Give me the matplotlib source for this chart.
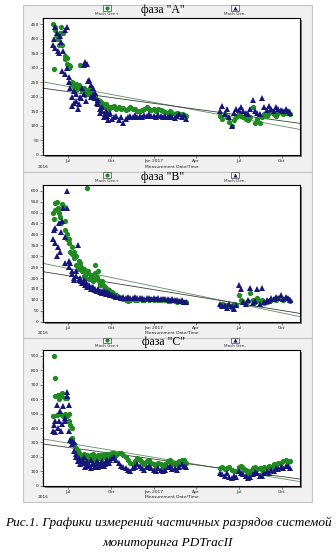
import numpy as np
import pandas as pd
import matplotlib
matplotlib.use("Agg")
import matplotlib.pyplot as plt
import matplotlib.dates as mdates
from matplotlib.patches import Rectangle
from matplotlib.lines import Line2D
from matplotlib.ticker import MultipleLocator, AutoMinorLocator, FuncFormatter

# ---- data ----
# main readings every 5 days from 2016-05-30, extra readings every 4 days from 2016-05-31,
# 2017 readings every 5 days from 2017-05-22
a_green_main = [450, 430, 400, 420, 380, 340, 315, 300, 245, 235,
                225, 240, 230, 215, 225, 210, 200, 215, 205, 190,
                185, 175, 170, 165, 160, 165, 170, 160, 165, 158,
                162, 155, 160, 165, 158, 160, 152, 150, 155, 158,
                165, 160, 155, 158, 152, 160, 155, 150, 148, 145,
                150, 145, 142, 145, 140, 142, 138, 135]
a_blue_main = [380, 440, 360, 410, 290, 430, 300, 250, 200, 180,
               210, 175, 195, 210, 185, 255, 200, 230, 195, 175,
               160, 150, 140, 135, 140, 125, 130, 135, 120, 130,
               110, 125, 130, 135, 130, 138, 132, 135, 130, 138,
               135, 140, 133, 136, 132, 138, 135, 130, 134, 130,
               136, 132, 128, 135, 140, 132, 138, 125]
a_green_extra = [295, 440, 410, 380, 440, 420, 330, 335, 310, 305,
                 250, 220, 245, 230, 310, 220, 230, 205, 215, 225,
                 210, 195, 200, 185, 180, 175, 180, 170, 175, 160,
                 165]
a_blue_extra = [400, 370, 420, 350, 390, 360, 280, 440, 270, 230,
                170, 220, 185, 160, 200, 230, 310, 320, 315, 260,
                240, 205, 215, 180, 190, 145, 165, 130, 150, 120,
                145]
a_green_2017 = [135, 125, 140, 130, 115, 100, 120, 130, 140, 135,
                130, 125, 120, 130, 165, 110, 125, 110, 130, 140,
                135, 145, 150, 140, 135, 145, 150, 140, 145, 150,
                140]
a_blue_2017 = [150, 170, 140, 160, 130, 100, 145, 160, 155, 165,
               150, 145, 140, 160, 190, 150, 145, 140, 195, 165,
               155, 170, 160, 150, 165, 160, 155, 150, 160, 150,
               145]

b_green_main = [500, 545, 520, 480, 540, 460, 400, 380, 340, 320,
                300, 280, 250, 240, 220, 230, 210, 200, 225, 190,
                175, 180, 160, 150, 145, 135, 125, 120, 115, 110,
                105, 100, 95, 100, 105, 98, 100, 105, 100, 98,
                102, 100, 105, 100, 103, 100, 98, 102, 100, 97,
                95, 98, 95, 92, 95, 90, 92, 88]
b_blue_main = [380, 430, 340, 320, 460, 270, 520, 280, 220, 200,
               210, 190, 185, 175, 180, 165, 160, 155, 150, 145,
               140, 140, 135, 138, 130, 120, 118, 115, 112, 110,
               115, 108, 112, 110, 108, 112, 110, 108, 110, 105,
               108, 110, 106, 108, 105, 108, 104, 106, 102, 105,
               100, 103, 98, 100, 96, 98, 90, 88]
b_green_extra = [470, 510, 550, 500, 450, 530, 420, 380, 360, 320,
                 310, 290, 260, 240, 270, 230, 210, 200, 610, 195,
                 215, 185, 260, 205, 230, 170, 185, 165, 150, 140,
                 130]
b_blue_extra = [420, 360, 300, 450, 410, 520, 390, 600, 250, 270,
                230, 190, 230, 350, 200, 175, 190, 170, 160, 170,
                150, 160, 145, 140, 150, 135, 130, 140, 125, 130,
                120]
b_green_2017 = [75, 80, 70, 75, 70, 65, 80, 75, 120, 100,
                90, 85, 95, 130, 100, 90, 110, 95, 100, 85,
                90, 95, 100, 105, 100, 110, 105, 100, 110, 105,
                95]
b_blue_2017 = [80, 70, 75, 65, 80, 70, 60, 75, 170, 150,
               90, 80, 100, 155, 85, 95, 150, 80, 155, 90,
               100, 95, 110, 105, 115, 110, 120, 105, 115, 110,
               100]

c_green_main = [480, 620, 630, 500, 640, 610, 480, 450, 400, 290,
                250, 230, 210, 220, 200, 190, 210, 220, 200, 210,
                190, 215, 200, 220, 210, 225, 230, 215, 225, 230,
                210, 200, 180, 160, 150, 170, 190, 180, 165, 150,
                170, 180, 160, 150, 140, 160, 150, 140, 150, 170,
                180, 150, 160, 150, 170, 180, 175, 160]
c_blue_main = [380, 450, 400, 520, 430, 470, 620, 380, 310, 300,
               220, 190, 170, 200, 160, 140, 180, 150, 130, 160,
               140, 170, 150, 180, 160, 190, 200, 180, 160, 140,
               130, 120, 110, 100, 120, 130, 150, 140, 120, 110,
               130, 140, 120, 110, 100, 120, 110, 100, 110, 130,
               140, 115, 120, 110, 130, 150, 140, 130]
c_green_extra = [900, 750, 490, 600, 620, 480, 500, 610, 500, 420,
                 330, 280, 260, 240, 210, 190, 200, 180, 215, 200,
                 190, 210, 180, 195, 200, 210, 190, 220, 210, 195,
                 220]
c_blue_extra = [420, 370, 560, 450, 380, 550, 450, 650, 560, 320,
                290, 240, 200, 170, 150, 180, 160, 130, 170, 150,
                120, 160, 140, 170, 130, 150, 160, 140, 170, 155,
                175]
c_green_2017 = [125, 130, 115, 120, 130, 110, 100, 105, 130, 135,
                120, 110, 90, 100, 120, 130, 115, 125, 110, 130,
                125, 140, 130, 150, 140, 160, 155, 170, 175, 165,
                170]
c_blue_2017 = [90, 80, 70, 85, 60, 55, 65, 60, 100, 90,
               80, 70, 55, 60, 80, 95, 90, 70, 65, 85,
               100, 90, 110, 100, 120, 115, 130, 120, 140, 135,
               125]

# trend lines: value at left edge, value at right edge
trend_green = {"A": (252, 88), "B": (267, 23), "C": (324, 28)}
trend_gray = {"A": (230, 109), "B": (229, 38), "C": (289, 46)}

titles = {"A": 'фаза "A"', "B": 'фаза "B"', "C": 'фаза "C"'}
y_max = {"A": 472, "B": 626, "C": 941}
y_step = {"A": 50, "B": 50, "C": 100}
legend_labels = ["Mach Gen+", "Mach Gen-"]

x_start = pd.Timestamp("2016-05-09")
x_end = pd.Timestamp("2017-11-09")

GREEN = "#1f8a1f"
BLUE = "#16167a"

W, H = 336, 554
fig = plt.figure(figsize=(W / 100, H / 100), dpi=100)
fig.patch.set_facecolor("white")


def fx(px):
    return px / W


def fy(py):
    return 1 - py / H


def month_fmt(x, pos):
    d = mdates.num2date(x)
    if d.month == 1:
        return d.strftime("%b %Y")
    return d.strftime("%b")


series = {
    "A": (a_green_main, a_blue_main, a_green_extra, a_blue_extra, a_green_2017, a_blue_2017),
    "B": (b_green_main, b_blue_main, b_green_extra, b_blue_extra, b_green_2017, b_blue_2017),
    "C": (c_green_main, c_blue_main, c_green_extra, c_blue_extra, c_green_2017, c_blue_2017),
}
# panel box (top, bottom) and axes (top, bottom) in pixels
panel_px = {"A": (5, 172, 18, 155), "B": (172, 338, 185, 321.7), "C": (338, 502, 350, 485.7)}
ax_left, ax_right = 43.3, 300

for key in ["A", "B", "C"]:
    ptop, pbot, atop, abot = panel_px[key]
    fig.add_artist(Rectangle((fx(23), fy(pbot)), fx(312) - fx(23), fy(ptop) - fy(pbot),
                             transform=fig.transFigure, facecolor="#f0f0f0",
                             edgecolor="#c4c4c4", lw=0.8, zorder=0))
    # shadow of plot area
    fig.add_artist(Rectangle((fx(ax_left + 2), fy(abot + 2)), fx(ax_right) - fx(ax_left),
                             fy(atop) - fy(abot), transform=fig.transFigure,
                             facecolor="#7a7a7a", edgecolor="none", zorder=0.5))

    ax = fig.add_axes([fx(ax_left), fy(abot), fx(ax_right) - fx(ax_left), fy(atop) - fy(abot)])
    ax.set_zorder(1)
    ax.set_facecolor("white")

    g_main, b_main, g_extra, b_extra, g_2017, b_2017 = series[key]
    d_main = pd.date_range("2016-05-30", periods=len(g_main), freq="5D")
    d_extra = pd.date_range("2016-05-31", periods=len(g_extra), freq="4D")
    d_2017 = pd.date_range("2017-05-22", periods=len(g_2017), freq="5D")

    ax.plot([x_start, x_end], trend_green[key], color="#5e8e5e", lw=0.6, zorder=1)
    ax.plot([x_start, x_end], trend_gray[key], color="#3c3c3c", lw=0.6, zorder=1)

    for d, v in [(d_main, g_main), (d_extra, g_extra), (d_2017, g_2017)]:
        ax.plot(d, v, ls="none", marker="o", ms=3.8, color=GREEN, mew=0, zorder=2)
    for d, v in [(d_main, b_main), (d_extra, b_extra), (d_2017, b_2017)]:
        ax.plot(d, v, ls="none", marker="^", ms=4.2, color=BLUE, mew=0, zorder=3)

    ax.set_xlim(x_start, x_end)
    ax.set_ylim(0, y_max[key])
    ax.yaxis.set_major_locator(MultipleLocator(y_step[key]))
    ax.yaxis.set_minor_locator(AutoMinorLocator(5))
    ax.xaxis.set_major_locator(mdates.MonthLocator(bymonth=[1, 4, 7, 10]))
    ax.xaxis.set_minor_locator(mdates.MonthLocator())
    ax.xaxis.set_major_formatter(FuncFormatter(month_fmt))
    ax.tick_params(which="major", labelsize=3.2, length=2, width=0.4, pad=1.2,
                   colors="#222222")
    ax.tick_params(which="minor", length=1, width=0.3, colors="#222222")
    for s in ax.spines.values():
        s.set_linewidth(0.8)
        s.set_color("black")

    fig.text(fx(163), fy(atop - 8), titles[key], family="Liberation Serif",
             fontsize=8.5, ha="center", va="center")
    for lx, mk, col, lab in [(107, "o", GREEN, legend_labels[0]),
                             (235, "^", BLUE, legend_labels[1])]:
        fig.add_artist(Rectangle((fx(lx - 4), fy(atop - 7)), fx(8), fy(0) - fy(5.5),
                                 transform=fig.transFigure, facecolor="#fafafa",
                                 edgecolor="#444444", lw=0.5, zorder=2))
        fig.add_artist(Line2D([fx(lx)], [fy(atop - 9.8)], marker=mk, ms=3.0, color=col,
                              mew=0, transform=fig.transFigure, zorder=3))
        fig.text(fx(lx), fy(atop - 4), lab, fontsize=3, ha="center", va="center",
                 color="#333333")
    fig.text(fx(43), fy(abot + 11.5), "2016", fontsize=3.2, ha="center", va="center",
             color="#222222")
    fig.text(fx(171.5), fy(abot + 11.5), "Measurement Date/Time", fontsize=3.2,
             ha="center", va="center", color="#222222")

fig.text(0.5, fy(523), "Рис.1. Графики измерений частичных разрядов системой",
         family="Liberation Serif", style="italic", fontsize=9.5, ha="center", va="center")
fig.text(0.5, fy(543), "мониторинга PDTracII",
         family="Liberation Serif", style="italic", fontsize=9.5, ha="center", va="center")

fig.savefig("out.png", dpi=100)
